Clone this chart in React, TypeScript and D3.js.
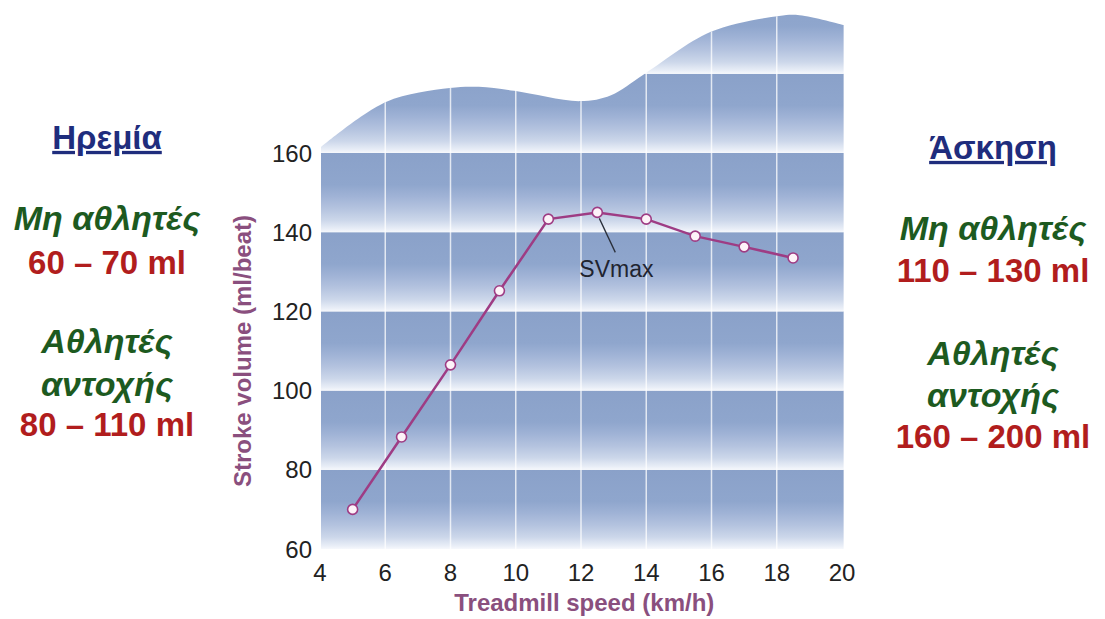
import React, { useEffect, useRef } from 'react';
import * as d3 from 'd3';

// treadmill speed (km/h) and stroke volume (ml/beat)
const speeds = [5, 6.5, 8, 9.5, 11, 12.5, 14, 15.5, 17, 18.5];
const strokeVolume = [70, 88.3, 106.5, 125.2, 143.3, 145, 143.3, 139, 136.3, 133.5];

const xTicks = [4, 6, 8, 10, 12, 14, 16, 18, 20];
const yTicks = [60, 80, 100, 120, 140, 160];
const bandStarts = [60, 80, 100, 120, 140, 160, 180];

// wavy top edge of the background panel, in data units
const waveX = [4.03, 6.02, 7.98, 8.87, 9.95, 11.97, 12.92, 13.9, 15.98, 18.07, 18.7, 20.05];
const waveY = [161.5, 172.9, 176.4, 176.7, 175.7, 173.1, 174.6, 179.7, 190.6, 194.6, 194.8, 192.3];

const peakIndex = 5;

const leftNotes = [
  { text: 'Ηρεμία', kind: 'head', y: 137 },
  { text: 'Μη αθλητές', kind: 'group', y: 218 },
  { text: '60 – 70 ml', kind: 'value', y: 262 },
  { text: 'Αθλητές', kind: 'group', y: 341 },
  { text: 'αντοχής', kind: 'group', y: 384 },
  { text: '80 – 110 ml', kind: 'value', y: 424 },
];
const rightNotes = [
  { text: 'Άσκηση', kind: 'head', y: 147 },
  { text: 'Μη αθλητές', kind: 'group', y: 228 },
  { text: '110 – 130 ml', kind: 'value', y: 270 },
  { text: 'Αθλητές', kind: 'group', y: 353 },
  { text: 'αντοχής', kind: 'group', y: 395 },
  { text: '160 – 200 ml', kind: 'value', y: 436 },
];

const W = 1105;
const H = 619;
const FONT = '"Liberation Sans", Arial, sans-serif';

const App = () => {
  const svgRef = useRef<SVGSVGElement>(null);

  useEffect(() => {
    const svg = d3.select(svgRef.current);
    svg.selectAll('*').remove();

    const x = d3.scaleLinear().domain([4, 20]).range([320, 842]);
    const y = d3.scaleLinear().domain([60, 160]).range([549, 153]);

    const defs = svg.append('defs');
    const grad = defs.append('linearGradient')
      .attr('id', 'band')
      .attr('x1', 0).attr('y1', 0).attr('x2', 0).attr('y2', 1);
    [
      [0, '#8aa1c9'],
      [0.4, '#8fa6cd'],
      [0.55, '#a0b3d6'],
      [0.7, '#b4c3df'],
      [0.85, '#ccd7ea'],
      [0.96, '#e9eef7'],
      [1, '#f6f8fc'],
    ].forEach(([o, c]) => grad.append('stop').attr('offset', o as number).attr('stop-color', c as string));

    // panel outline: wavy top, flat bottom
    const wave = d3.line<number>()
      .x(i => x(waveX[i]))
      .y(i => y(waveY[i]))
      .curve(d3.curveCatmullRom.alpha(0.5));
    const topPath = wave(d3.range(waveX.length)) || '';
    const panel = `${topPath}L${x(20.05)},${y(60)}L${x(4.03)},${y(60)}Z`;

    defs.append('clipPath').attr('id', 'panel-clip')
      .append('path').attr('d', panel);

    const bg = svg.append('g').attr('clip-path', 'url(#panel-clip)');

    bg.selectAll('rect.band')
      .data(bandStarts)
      .enter()
      .append('rect')
      .attr('class', 'band')
      .attr('x', x(4) - 2)
      .attr('width', x(20.05) - x(4) + 4)
      .attr('y', d => y(d + 20))
      .attr('height', d => y(d) - y(d + 20))
      .attr('fill', 'url(#band)');

    bg.selectAll('line.grid')
      .data(xTicks.slice(1, -1))
      .enter()
      .append('line')
      .attr('class', 'grid')
      .attr('x1', d => x(d)).attr('x2', d => x(d))
      .attr('y1', 0).attr('y2', y(60))
      .attr('stroke', '#ffffff')
      .attr('stroke-opacity', 0.75)
      .attr('stroke-width', 1.5);

    // tick labels
    svg.append('g')
      .selectAll('text')
      .data(yTicks)
      .enter()
      .append('text')
      .attr('x', 312)
      .attr('y', d => y(d) + 8.5)
      .attr('text-anchor', 'end')
      .attr('fill', '#222')
      .style('font', `24px ${FONT}`)
      .text(d => d);

    svg.append('g')
      .selectAll('text')
      .data(xTicks)
      .enter()
      .append('text')
      .attr('x', d => x(d))
      .attr('y', 581)
      .attr('text-anchor', 'middle')
      .attr('fill', '#222')
      .style('font', `24px ${FONT}`)
      .text(d => d);

    // axis titles
    svg.append('text')
      .attr('transform', `translate(251,${y(110)}) rotate(-90)`)
      .attr('text-anchor', 'middle')
      .attr('fill', '#8a4f7e')
      .style('font', `bold 24px ${FONT}`)
      .text('Stroke volume (ml/beat)');

    svg.append('text')
      .attr('x', x(12.1))
      .attr('y', 611)
      .attr('text-anchor', 'middle')
      .attr('fill', '#8a4f7e')
      .style('font', `bold 24px ${FONT}`)
      .text('Treadmill speed (km/h)');

    // SVmax annotation
    const px = x(speeds[peakIndex]);
    const py = y(strokeVolume[peakIndex]);
    svg.append('line')
      .attr('x1', px + 2).attr('y1', py + 6)
      .attr('x2', px + 18).attr('y2', py + 40)
      .attr('stroke', '#2a2f3a')
      .attr('stroke-width', 1.3);
    svg.append('text')
      .attr('x', px - 18)
      .attr('y', py + 65)
      .attr('fill', '#1f2430')
      .style('font', `23px ${FONT}`)
      .text('SVmax');

    // data line
    const line = d3.line<number>()
      .x((d, i) => x(speeds[i]))
      .y(d => y(d));
    svg.append('path')
      .datum(strokeVolume)
      .attr('d', line)
      .attr('fill', 'none')
      .attr('stroke', '#9e3c84')
      .attr('stroke-width', 2.5);

    svg.selectAll('circle.pt')
      .data(strokeVolume)
      .enter()
      .append('circle')
      .attr('class', 'pt')
      .attr('cx', (d, i) => x(speeds[i]))
      .attr('cy', d => y(d))
      .attr('r', 5)
      .attr('fill', '#fdf2f8')
      .attr('stroke', '#9e3c84')
      .attr('stroke-width', 1.6);

    // side notes
    const styles: Record<string, { size: number; font: string; fill: string; underline?: boolean }> = {
      head: { size: 33, font: `bold 33px ${FONT}`, fill: '#1f2d7d', underline: true },
      group: { size: 34, font: `italic bold 34px ${FONT}`, fill: '#1d5a1f' },
      value: { size: 33, font: `bold 33px ${FONT}`, fill: '#b11d1d' },
    };
    const drawNotes = (notes: typeof leftNotes, cx: number) => {
      notes.forEach(n => {
        const s = styles[n.kind];
        svg.append('text')
          .attr('x', cx)
          .attr('y', n.y + s.size * 0.36)
          .attr('text-anchor', 'middle')
          .attr('fill', s.fill)
          .attr('text-decoration', s.underline ? 'underline' : null)
          .style('font', s.font)
          .text(n.text);
      });
    };
    drawNotes(leftNotes, 107);
    drawNotes(rightNotes, 993);
  }, []);

  return (
    <svg
      ref={svgRef}
      width={W}
      height={H}
      style={{ position: 'absolute', left: 0, top: 0, background: '#fff' }}
    />
  );
};

export default App;
